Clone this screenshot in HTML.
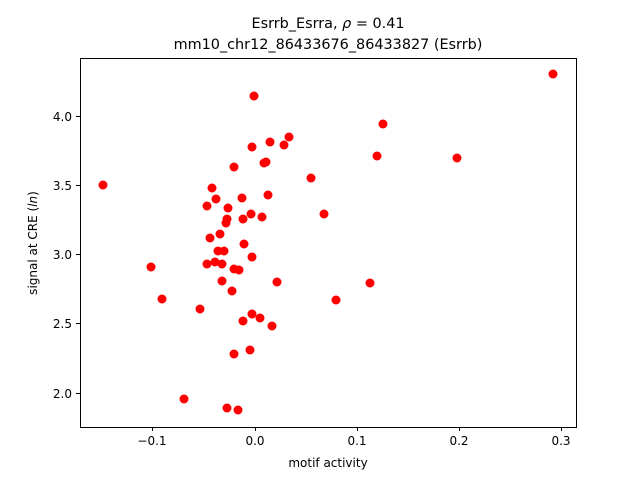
<!DOCTYPE html>
<html><head><meta charset="utf-8"><style>body{margin:0;background:#fff}svg{display:block}text{font-family:"DejaVu Sans","Liberation Sans",sans-serif;fill:#000}</style></head><body>
<svg width="640" height="480" viewBox="0 0 640 480" xmlns="http://www.w3.org/2000/svg">
<rect width="640" height="480" fill="#fff"/>
<text x="328" y="28" font-size="14.4" text-anchor="middle">Esrrb_Esrra, <tspan font-style="italic">ρ</tspan> = 0.41</text>
<text x="328" y="49" font-size="14.4" text-anchor="middle">mm10_chr12_86433676_86433827 (Esrrb)</text>
<g fill="#ff0000">
<circle cx="103" cy="185" r="4.5"/><circle cx="254" cy="96" r="4.5"/><circle cx="553" cy="74" r="4.5"/><circle cx="383" cy="124" r="4.5"/><circle cx="289" cy="137" r="4.5"/><circle cx="270" cy="142" r="4.5"/><circle cx="284" cy="145" r="4.5"/><circle cx="252" cy="147" r="4.5"/><circle cx="377" cy="156" r="4.5"/><circle cx="457" cy="158" r="4.5"/><circle cx="266" cy="162" r="4.5"/><circle cx="264" cy="163" r="4.5"/><circle cx="234" cy="167" r="4.5"/><circle cx="311" cy="178" r="4.5"/><circle cx="212" cy="188" r="4.5"/><circle cx="216" cy="199" r="4.5"/><circle cx="268" cy="195" r="4.5"/><circle cx="242" cy="198" r="4.5"/><circle cx="207" cy="206" r="4.5"/><circle cx="228" cy="208" r="4.5"/><circle cx="324" cy="214" r="4.5"/><circle cx="251" cy="214" r="4.5"/><circle cx="262" cy="217" r="4.5"/><circle cx="243" cy="219" r="4.5"/><circle cx="227" cy="219" r="4.5"/><circle cx="226" cy="223" r="4.5"/><circle cx="220" cy="234" r="4.5"/><circle cx="210" cy="238" r="4.5"/><circle cx="244" cy="244" r="4.5"/><circle cx="218" cy="251" r="4.5"/><circle cx="224" cy="251" r="4.5"/><circle cx="252" cy="257" r="4.5"/><circle cx="151" cy="267" r="4.5"/><circle cx="215" cy="262" r="4.5"/><circle cx="207" cy="264" r="4.5"/><circle cx="222" cy="264" r="4.5"/><circle cx="234" cy="269" r="4.5"/><circle cx="239" cy="270" r="4.5"/><circle cx="222" cy="281" r="4.5"/><circle cx="277" cy="282" r="4.5"/><circle cx="162" cy="299" r="4.5"/><circle cx="232" cy="291" r="4.5"/><circle cx="336" cy="300" r="4.5"/><circle cx="370" cy="283" r="4.5"/><circle cx="200" cy="309" r="4.5"/><circle cx="252" cy="314" r="4.5"/><circle cx="260" cy="318" r="4.5"/><circle cx="243" cy="321" r="4.5"/><circle cx="272" cy="326" r="4.5"/><circle cx="250" cy="350" r="4.5"/><circle cx="234" cy="354" r="4.5"/><circle cx="184" cy="399" r="4.5"/><circle cx="227" cy="408" r="4.5"/><circle cx="238" cy="410" r="4.5"/>
</g>
<rect x="80.5" y="58.5" width="496" height="369" fill="none" stroke="#000" stroke-width="1"/>
<g stroke="#000" stroke-width="1">
<line x1="152.5" y1="427" x2="152.5" y2="431"/><line x1="255.5" y1="427" x2="255.5" y2="431"/><line x1="357.5" y1="427" x2="357.5" y2="431"/><line x1="459.5" y1="427" x2="459.5" y2="431"/><line x1="561.5" y1="427" x2="561.5" y2="431"/>
<line x1="76" y1="116.5" x2="80" y2="116.5"/><line x1="76" y1="185.5" x2="80" y2="185.5"/><line x1="76" y1="254.5" x2="80" y2="254.5"/><line x1="76" y1="323.5" x2="80" y2="323.5"/><line x1="76" y1="393.5" x2="80" y2="393.5"/>
</g>
<g font-size="12" text-anchor="middle">
<text x="152" y="445">−0.1</text><text x="255" y="445">0.0</text><text x="357" y="445">0.1</text><text x="459" y="445">0.2</text><text x="561" y="445">0.3</text>
</g>
<g font-size="12" text-anchor="end">
<text x="72" y="121">4.0</text><text x="72" y="190">3.5</text><text x="72" y="259">3.0</text><text x="72" y="328">2.5</text><text x="72" y="398">2.0</text>
</g>
<text x="328" y="467" font-size="12" text-anchor="middle">motif activity</text>
<text transform="translate(37,243) rotate(-90)" font-size="12" text-anchor="middle">signal at CRE (<tspan font-style="italic">ln</tspan>)</text>
</svg>
</body></html>
